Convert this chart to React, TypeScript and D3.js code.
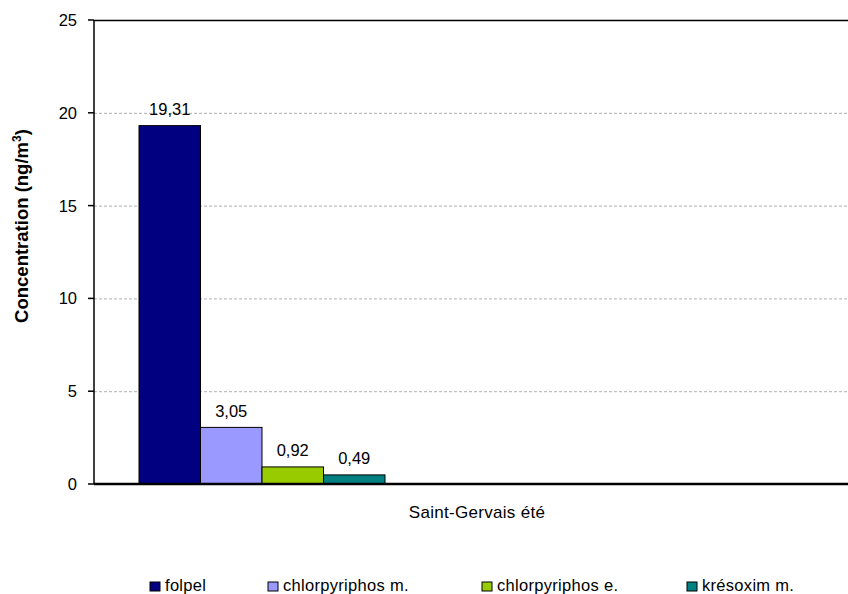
import React from "react";
import * as d3 from "d3";

const categories = ["Saint-Gervais été"];
const seriesNames = ["folpel", "chlorpyriphos m.", "chlorpyriphos e.", "krésoxim m."];
const seriesValues = [19.31, 3.05, 0.92, 0.49];
const seriesLabels = ["19,31", "3,05", "0,92", "0,49"];
const seriesColors = ["#000080", "#9999FF", "#99CC00", "#008080"];
const yTicks = [0, 5, 10, 15, 20, 25];

const W = 848;
const H = 594;
const plotLeft = 94;
const plotTop = 20;
const plotBottom = 484;
const plotRight = 860;
const groupLeft = 139;
const groupRight = 385;
const legendX = [150, 268, 482, 687];
const font = "'Liberation Sans', Arial, sans-serif";

export default function App() {
  const y = d3.scaleLinear().domain([0, 25]).range([plotBottom, plotTop]);
  const xCat = d3.scaleBand<string>().domain(categories).range([plotLeft, plotRight]);
  const xSer = d3.scaleBand<string>().domain(seriesNames).range([groupLeft, groupRight]);

  return (
    <svg
      width={W}
      height={H}
      style={{ position: "absolute", left: 0, top: 0, background: "#fff" }}
      fontFamily={font}
    >
      {yTicks.filter((t) => t > 0 && t < 25).map((t) => (
        <line
          key={"g" + t}
          x1={plotLeft}
          x2={W}
          y1={y(t) + 0.5}
          y2={y(t) + 0.5}
          stroke="#b0b0b0"
          strokeWidth={1}
          strokeDasharray="3,2"
        />
      ))}
      <line x1={plotLeft} x2={W} y1={y(25) + 0.5} y2={y(25) + 0.5} stroke="#000" strokeWidth={1.5} />
      {seriesNames.map((s, i) => (
        <rect
          key={s}
          x={xSer(s)!}
          y={y(seriesValues[i])}
          width={xSer.bandwidth()}
          height={y(0) - y(seriesValues[i])}
          fill={seriesColors[i]}
          stroke="#000"
          strokeWidth={1}
        />
      ))}
      {seriesNames.map((s, i) => (
        <text
          key={"l" + s}
          x={xSer(s)! + xSer.bandwidth() / 2}
          y={y(seriesValues[i]) - 10.5}
          textAnchor="middle"
          fontSize={16.5}
          fill="#000"
        >
          {seriesLabels[i]}
        </text>
      ))}
      <line x1={plotLeft} x2={plotLeft} y1={plotTop} y2={plotBottom} stroke="#000" strokeWidth={1.5} />
      {yTicks.map((t) => (
        <g key={"t" + t}>
          <line x1={plotLeft - 6} x2={plotLeft} y1={y(t)} y2={y(t)} stroke="#000" strokeWidth={1.5} />
          <text x={77} y={y(t) + 6} textAnchor="end" fontSize={16.5} fill="#000">
            {t}
          </text>
        </g>
      ))}
      <line x1={plotLeft} x2={W} y1={plotBottom} y2={plotBottom} stroke="#000" strokeWidth={2.5} />
      {categories.map((c) => (
        <text
          key={c}
          x={xCat(c)! + xCat.bandwidth() / 2}
          y={518}
          textAnchor="middle"
          fontSize={17}
          letterSpacing={0.3}
          fill="#000"
        >
          {c}
        </text>
      ))}
      <text
        transform={`translate(28, 226) rotate(-90)`}
        textAnchor="middle"
        fontSize={18.5}
        fontWeight="bold"
        fill="#000"
      >
        Concentration (ng/m<tspan dy={-7} fontSize={12}>3</tspan><tspan dy={7}>)</tspan>
      </text>
      {seriesNames.map((s, i) => (
        <g key={"lg" + s}>
          <rect x={legendX[i]} y={582} width={10} height={9} fill={seriesColors[i]} stroke="#000" strokeWidth={1} />
          <text x={legendX[i] + 15} y={591} fontSize={16.5} letterSpacing={0.3} fill="#000">
            {s}
          </text>
        </g>
      ))}
    </svg>
  );
}
